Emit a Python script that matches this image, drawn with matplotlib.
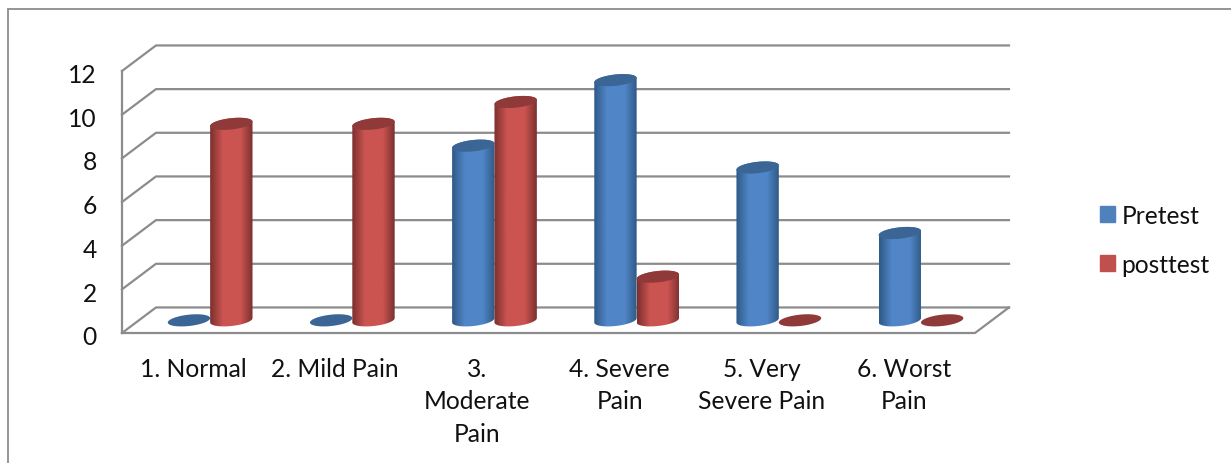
import numpy as np
import matplotlib
matplotlib.use('Agg')
import matplotlib.pyplot as plt
from matplotlib.patches import Patch, Polygon, Rectangle
from matplotlib.colors import LinearSegmentedColormap
from matplotlib.transforms import ScaledTranslation

categories = ['1. Normal', '2. Mild Pain', '3.\nModerate\nPain', '4. Severe\nPain',
              '5. Very\nSevere Pain', '6. Worst\nPain']
pretest = [0, 0, 8, 11, 7, 4]
posttest = [9, 9, 10, 2, 0, 0]
y_ticks = [0, 2, 4, 6, 8, 10, 12]

plt.rcParams['font.family'] = ['Lato', 'DejaVu Sans']

W, H = 1231, 464
fig = plt.figure(figsize=(W / 100, H / 100), dpi=100)
ax = fig.add_axes([122 / W, 1 - 334 / H, (975 - 122) / W, (334 - 72) / H])
ax.set_xlim(0, 6)
ax.set_ylim(0, 12)

# depth of the fake 3d box, in data units
depth_x = 0.239
depth_y = 1.17
grid_col = '#8c8c8c'


def grid_line(xs, ys, lw=1.6):
    ax.plot(xs, ys, color=grid_col, lw=lw, clip_on=False, zorder=1, solid_capstyle='projecting')


for v in y_ticks:
    grid_line([0, depth_x, 6 + depth_x], [v, v + depth_y, v + depth_y])
grid_line([0, 0], [0, 12])
grid_line([0, 6, 6 + depth_x], [0, 0, depth_y])

# bars stand in the middle of the floor
bar_dx = 0.12
bar_dy = 0.58
r = 0.149
ell_h = 0.26
skew = 0.1


def ellipse(xc, y, t):
    return np.column_stack([xc + r * np.cos(t), y + ell_h * np.sin(t) + skew * np.cos(t)])


def cylinder(xc, val, dark, mid, top, z):
    y0 = bar_dy
    y1 = val + bar_dy
    t = np.linspace(0, 2 * np.pi, 80)
    if val == 0:
        ax.add_patch(Polygon(ellipse(xc, y0, t), color=top, lw=0, zorder=z, clip_on=False))
        return
    low = ellipse(xc, y0, np.linspace(np.pi, 2 * np.pi, 40))
    up = ellipse(xc, y1, np.linspace(0, np.pi, 40))
    body = Polygon(np.vstack([low, up]), transform=ax.transData, fc='none', ec='none')
    ax.add_patch(body)
    cmap = LinearSegmentedColormap.from_list(
        'c', [(0, dark), (0.3, mid), (0.72, mid), (1, dark)])
    im = ax.imshow(np.linspace(0, 1, 64)[None, :], cmap=cmap, aspect='auto',
                   extent=[xc - r, xc + r, y0 - 1, y1 + 1], zorder=z, clip_on=True)
    im.set_clip_path(body)
    ax.add_patch(Polygon(ellipse(xc, y1, t), color=top, lw=0, zorder=z + 0.1, clip_on=False))


x = np.arange(len(categories)) + 0.5
for i in range(len(categories)):
    c = x[i] + bar_dx
    cylinder(c - r, pretest[i], '#2f5a88', '#5086c8', '#3a6595', 3)
    cylinder(c + r, posttest[i], '#7c302e', '#cb5451', '#8f3a38', 4)

ax.set_xlim(0, 6)
ax.set_ylim(0, 12)
ax.set_xticks(x)
ax.set_xticklabels(categories, linespacing=1.5)
ax.set_yticks(y_ticks)
ax.tick_params(axis='both', length=0, labelsize=17.7, labelcolor='#111111')
ax.tick_params(axis='y', pad=18)
ax.tick_params(axis='x', pad=17)
for s in ax.spines.values():
    s.set_visible(False)
# the y labels sit a little lower than the line ends
nudge = ScaledTranslation(0, -1.2 / 72, fig.dpi_scale_trans)
for lab in ax.get_yticklabels():
    lab.set_transform(lab.get_transform() + nudge)

handles = [Patch(color='#4f81bd', label='Pretest'), Patch(color='#c0504d', label='posttest')]
fig.legend(handles=handles, loc='center left', bbox_to_anchor=(1078 / W, 1 - 241 / H), frameon=False,
           fontsize=17.7, labelspacing=1.05, handlelength=0.62, handleheight=0.62, handletextpad=0.25,
           labelcolor='#111111')

# chart border
fig.add_artist(Rectangle((8 / W, -0.1), 1.2, 1.1 - 10 / H, fill=False, ec='#8c8c8c', lw=1.3,
                         transform=fig.transFigure))

fig.savefig('out.png', dpi=100)
